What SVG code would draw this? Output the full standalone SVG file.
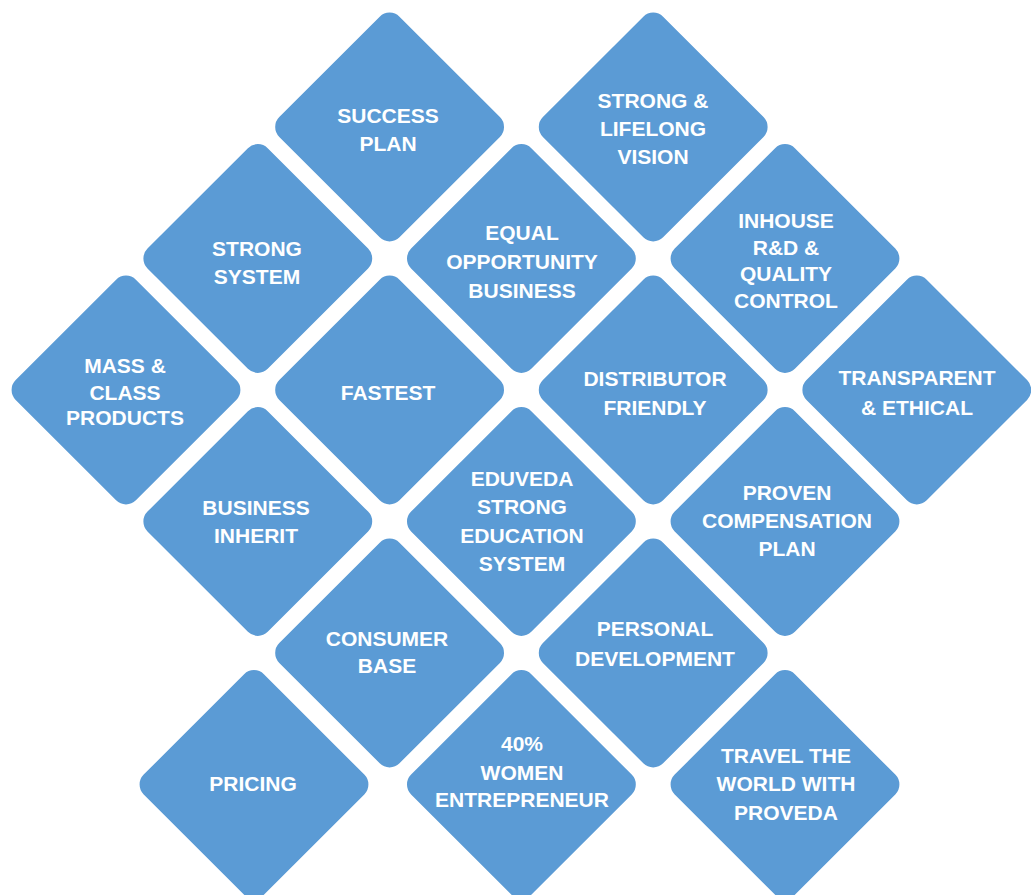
<svg xmlns="http://www.w3.org/2000/svg" width="1031" height="895" viewBox="0 0 1031 895">
<defs>
<style>
.d{fill:#5b9bd5;}
.t{fill:#ffffff;font-family:"Liberation Sans",Arial,sans-serif;font-weight:bold;font-size:21px;text-anchor:middle;}
</style>
<rect id="dia" class="d" x="-85" y="-85" width="170" height="170" rx="14" ry="14" transform="rotate(45)"/>
</defs>
<rect width="1031" height="895" fill="#ffffff"/>
<g id="node-success"><use href="#dia" transform="translate(389.6,127)"/><text class="t" x="388" y="122.5">SUCCESS</text><text class="t" x="388" y="150.5">PLAN</text></g>
<g id="node-vision"><use href="#dia" transform="translate(653.2,127)"/><text class="t" x="653" y="107.5">STRONG &amp;</text><text class="t" x="653" y="135.5">LIFELONG</text><text class="t" x="653" y="163.5">VISION</text></g>
<g id="node-strongsystem"><use href="#dia" transform="translate(257.8,258.5)"/><text class="t" x="257" y="255.5">STRONG</text><text class="t" x="257" y="283.5">SYSTEM</text></g>
<g id="node-equal"><use href="#dia" transform="translate(521.4,258.5)"/><text class="t" x="522" y="239.5">EQUAL</text><text class="t" x="522" y="268.5">OPPORTUNITY</text><text class="t" x="522" y="297.5">BUSINESS</text></g>
<g id="node-inhouse"><use href="#dia" transform="translate(785,258.5)"/><text class="t" x="786" y="227.5">INHOUSE</text><text class="t" x="786" y="254.5">R&amp;D &amp;</text><text class="t" x="786" y="280.5">QUALITY</text><text class="t" x="786" y="307.5">CONTROL</text></g>
<g id="node-mass"><use href="#dia" transform="translate(126,390)"/><text class="t" x="125" y="372.5">MASS &amp;</text><text class="t" x="125" y="399.5">CLASS</text><text class="t" x="125" y="424.5">PRODUCTS</text></g>
<g id="node-fastest"><use href="#dia" transform="translate(389.6,390)"/><text class="t" x="388" y="399.5">FASTEST</text></g>
<g id="node-distributor"><use href="#dia" transform="translate(653.2,390)"/><text class="t" x="655" y="385.5">DISTRIBUTOR</text><text class="t" x="655" y="414.5">FRIENDLY</text></g>
<g id="node-transparent"><use href="#dia" transform="translate(916.8,390)"/><text class="t" x="917" y="384.5">TRANSPARENT</text><text class="t" x="917" y="414.5">&amp; ETHICAL</text></g>
<g id="node-inherit"><use href="#dia" transform="translate(257.8,521.5)"/><text class="t" x="256" y="514.5">BUSINESS</text><text class="t" x="256" y="542.5">INHERIT</text></g>
<g id="node-eduveda"><use href="#dia" transform="translate(521.4,521.5)"/><text class="t" x="522" y="485.5">EDUVEDA</text><text class="t" x="522" y="513.5">STRONG</text><text class="t" x="522" y="542.5">EDUCATION</text><text class="t" x="522" y="570.5">SYSTEM</text></g>
<g id="node-proven"><use href="#dia" transform="translate(785,521.5)"/><text class="t" x="787" y="499.5">PROVEN</text><text class="t" x="787" y="527.5">COMPENSATION</text><text class="t" x="787" y="555.5">PLAN</text></g>
<g id="node-consumer"><use href="#dia" transform="translate(389.6,653)"/><text class="t" x="387" y="645.5">CONSUMER</text><text class="t" x="387" y="672.5">BASE</text></g>
<g id="node-personal"><use href="#dia" transform="translate(653.2,653)"/><text class="t" x="655" y="635.5">PERSONAL</text><text class="t" x="655" y="665.5">DEVELOPMENT</text></g>
<g id="node-pricing"><use href="#dia" transform="translate(254,784.5)"/><text class="t" x="253" y="790.5">PRICING</text></g>
<g id="node-women"><use href="#dia" transform="translate(521.4,784.5)"/><text class="t" x="522" y="750.5">40%</text><text class="t" x="522" y="779.5">WOMEN</text><text class="t" x="522" y="806.5">ENTREPRENEUR</text></g>
<g id="node-travel"><use href="#dia" transform="translate(785,784.5)"/><text class="t" x="786" y="762.5">TRAVEL THE</text><text class="t" x="786" y="790.5">WORLD WITH</text><text class="t" x="786" y="819.5">PROVEDA</text></g>
<g id="connectors"></g>
</svg>
